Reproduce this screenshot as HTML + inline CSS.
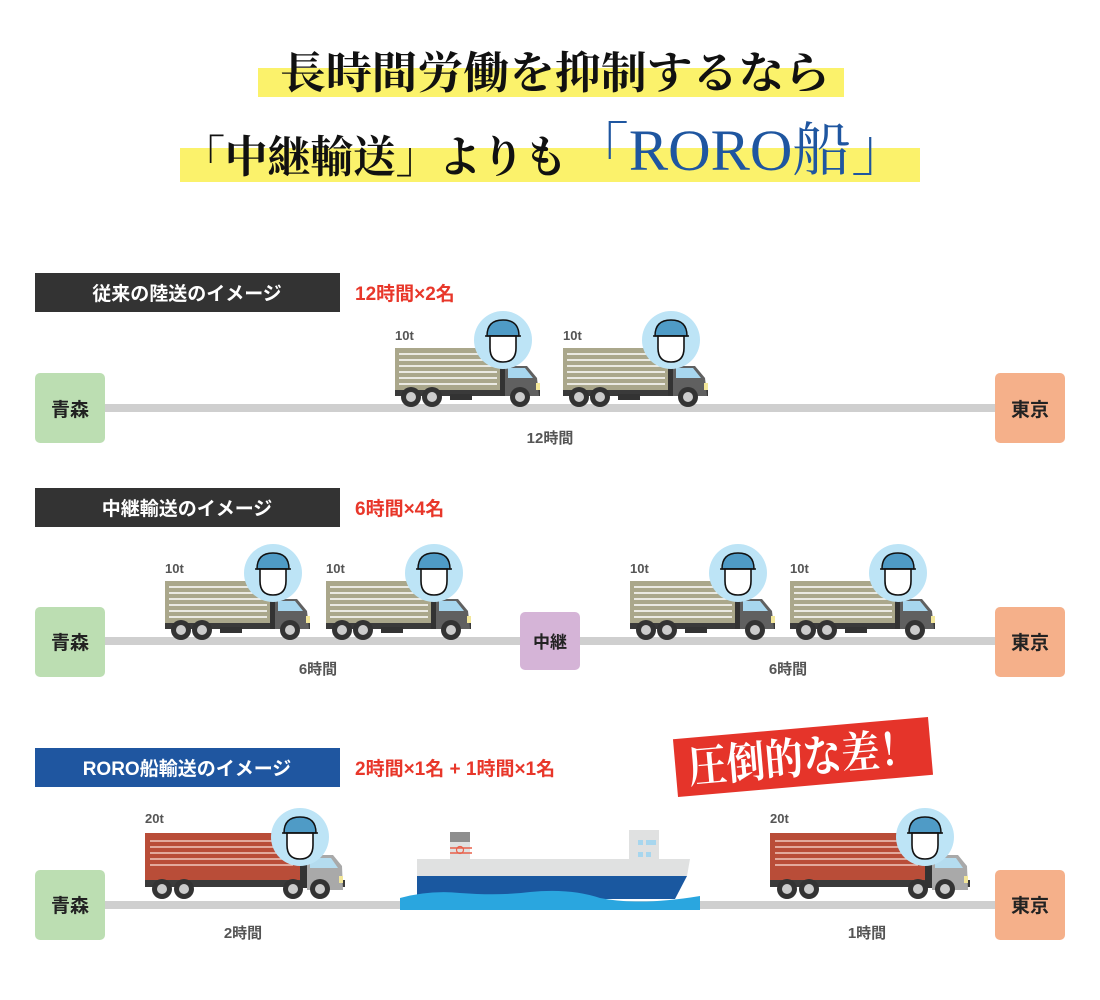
<!DOCTYPE html>
<html><head><meta charset="utf-8"><style>
html,body{margin:0;padding:0;background:#fff;}
svg{display:block}
.s{font-family:"Liberation Serif","Noto Serif CJK SC",serif;}
.g{font-family:"Liberation Sans","Noto Sans CJK JP",sans-serif;font-weight:bold;}
</style></head><body>
<svg width="1100" height="1000" viewBox="0 0 1100 1000" xmlns="http://www.w3.org/2000/svg">
<defs>
<g id="driver">
  <circle cx="0" cy="0" r="29" fill="#bde4f6"/>
  <path d="M-16 -4 Q-16 -20 0 -20 Q16 -20 16 -4 Z" fill="#4f9bc6" stroke="#111" stroke-width="1.5"/>
  <path d="M-13 -4 L-13 8 Q-13 22 0 22 Q13 22 13 8 L13 -4 Z" fill="#fff" stroke="#111" stroke-width="1.6"/>
  <path d="M-18 -4 L18 -4" stroke="#111" stroke-width="1.5"/>
</g>
<g id="t10">
  <text x="0" y="20" class="g" font-size="13" fill="#555">10t</text>
  <rect x="0" y="28" width="105" height="45" fill="#aaa78b"/>
  <g stroke="#fff" stroke-width="1.5">
    <line x1="4" y1="34" x2="102" y2="34"/><line x1="4" y1="40" x2="102" y2="40"/>
    <line x1="4" y1="46" x2="102" y2="46"/><line x1="4" y1="52" x2="102" y2="52"/>
    <line x1="4" y1="58" x2="102" y2="58"/><line x1="4" y1="64" x2="102" y2="64"/>
  </g>
  <rect x="0" y="70" width="145" height="6" fill="#3a3a3a"/>
  <rect x="105" y="46" width="5" height="30" fill="#333"/>
  <path d="M110 46 L132 46 L142 58 L144 76 L110 76 Z" fill="#606060"/>
  <path d="M113 48 L130 48 L138 58 L113 58 Z" fill="#a7d6ee"/>
  <rect x="141" y="63" width="4" height="7" fill="#f3e79a"/>
  <rect x="55" y="74" width="22" height="6" fill="#333"/>
  <g fill="#333"><circle cx="16" cy="77" r="10"/><circle cx="37" cy="77" r="10"/><circle cx="125" cy="77" r="10"/></g>
  <g fill="#ccc"><circle cx="16" cy="77" r="5"/><circle cx="37" cy="77" r="5"/><circle cx="125" cy="77" r="5"/></g>
  <use href="#driver" x="108" y="20"/>
</g>
<g id="t20">
  <text x="0" y="23" class="g" font-size="13" fill="#555">20t</text>
  <rect x="0" y="33" width="155" height="50" fill="#b94d38"/>
  <g stroke="#f0c8bd" stroke-width="1.5">
    <line x1="5" y1="41" x2="148" y2="41"/><line x1="5" y1="47" x2="148" y2="47"/>
    <line x1="5" y1="53" x2="148" y2="53"/><line x1="5" y1="59" x2="148" y2="59"/>
    <line x1="5" y1="65" x2="148" y2="65"/>
  </g>
  <rect x="0" y="80" width="200" height="7" fill="#3a3a3a"/>
  <rect x="155" y="50" width="7" height="38" fill="#333"/>
  <path d="M162 55 L188 55 L197 66 L198 90 L162 90 Z" fill="#a9a9a9"/>
  <path d="M165 58 L186 58 L193 68 L165 68 Z" fill="#b4dcef"/>
  <rect x="194" y="76" width="4" height="7" fill="#f3e79a"/>
  <g fill="#333"><circle cx="17" cy="89" r="10"/><circle cx="39" cy="89" r="10"/><circle cx="148" cy="89" r="10"/><circle cx="175" cy="89" r="10"/></g>
  <g fill="#ccc"><circle cx="17" cy="89" r="5"/><circle cx="39" cy="89" r="5"/><circle cx="148" cy="89" r="5"/><circle cx="175" cy="89" r="5"/></g>
  <use href="#driver" x="155" y="37"/>
</g>
</defs>

<!-- Title -->
<rect x="258" y="68" width="586" height="29" fill="#fbf26b"/>
<rect x="180" y="148" width="740" height="34" fill="#fbf26b"/>
<text x="280" y="88" class="s" font-size="44" font-weight="bold" fill="#111" textLength="550" lengthAdjust="spacingAndGlyphs">長時間労働を抑制するなら</text>
<text x="182" y="172" class="s" font-size="44" font-weight="bold" fill="#111" textLength="385" lengthAdjust="spacingAndGlyphs">「中継輸送」よりも</text>
<text x="570" y="170" class="s" font-size="58" fill="#1f56a0" textLength="340" lengthAdjust="spacingAndGlyphs">「RORO船」</text>

<!-- Row 1 -->
<rect x="35" y="273" width="305" height="39" fill="#333"/>
<text x="187" y="300" text-anchor="middle" class="g" font-size="19" fill="#fff">従来の陸送のイメージ</text>
<text x="355" y="300" class="g" font-size="19" fill="#e8372a">12時間×2名</text>
<rect x="100" y="404" width="900" height="8" fill="#cfcfcf"/>
<use href="#t10" x="395" y="320"/>
<use href="#t10" x="563" y="320"/>
<rect x="35" y="373" width="70" height="70" rx="5" fill="#bcdeb2"/>
<text x="70" y="416" text-anchor="middle" class="g" font-size="19" fill="#222">青森</text>
<rect x="995" y="373" width="70" height="70" rx="5" fill="#f5b08a"/>
<text x="1030" y="416" text-anchor="middle" class="g" font-size="19" fill="#222">東京</text>
<text x="550" y="443" text-anchor="middle" class="g" font-size="15" fill="#555">12時間</text>

<!-- Row 2 -->
<rect x="35" y="488" width="305" height="39" fill="#333"/>
<text x="187" y="515" text-anchor="middle" class="g" font-size="19" fill="#fff">中継輸送のイメージ</text>
<text x="355" y="515" class="g" font-size="19" fill="#e8372a">6時間×4名</text>
<rect x="100" y="637" width="900" height="8" fill="#cfcfcf"/>
<use href="#t10" x="165" y="553"/>
<use href="#t10" x="326" y="553"/>
<use href="#t10" x="630" y="553"/>
<use href="#t10" x="790" y="553"/>
<rect x="35" y="607" width="70" height="70" rx="5" fill="#bcdeb2"/>
<text x="70" y="649" text-anchor="middle" class="g" font-size="19" fill="#222">青森</text>
<rect x="995" y="607" width="70" height="70" rx="5" fill="#f5b08a"/>
<text x="1030" y="649" text-anchor="middle" class="g" font-size="19" fill="#222">東京</text>
<rect x="520" y="612" width="60" height="58" rx="5" fill="#d5b4d7"/>
<text x="550" y="648" text-anchor="middle" class="g" font-size="17" fill="#222">中継</text>
<text x="318" y="674" text-anchor="middle" class="g" font-size="15" fill="#555">6時間</text>
<text x="788" y="674" text-anchor="middle" class="g" font-size="15" fill="#555">6時間</text>

<!-- Row 3 -->
<rect x="35" y="748" width="305" height="39" fill="#1f56a0"/>
<text x="187" y="775" text-anchor="middle" class="g" font-size="19" fill="#fff">RORO船輸送のイメージ</text>
<text x="355" y="775" class="g" font-size="19" fill="#e8372a">2時間×1名 + 1時間×1名</text>
<g transform="rotate(-5 803 757)">
<rect x="675" y="728" width="256" height="58" fill="#e5342a"/>
<text x="803" y="773" text-anchor="middle" class="s" font-size="44" font-weight="bold" fill="#fff" textLength="230" lengthAdjust="spacingAndGlyphs">圧倒的な差！</text>
</g>
<rect x="100" y="901" width="900" height="8" fill="#cfcfcf"/>
<use href="#t20" x="145" y="800"/>
<use href="#t20" x="770" y="800"/>
<!-- ship -->
<rect x="450" y="832" width="20" height="10" fill="#8e8e8e"/>
<rect x="450" y="842" width="20" height="20" fill="#e0e1e1"/>
<line x1="450" y1="848" x2="472" y2="848" stroke="#e8604a" stroke-width="1.5"/>
<line x1="450" y1="853" x2="472" y2="853" stroke="#e8604a" stroke-width="1.5"/>
<circle cx="460" cy="850" r="3.5" fill="none" stroke="#e8604a" stroke-width="1.2"/>
<rect x="629" y="830" width="30" height="36" fill="#e0e1e1"/>
<g fill="#a7d6ee"><rect x="638" y="840" width="5" height="5"/><rect x="646" y="840" width="10" height="5"/><rect x="638" y="852" width="5" height="5"/><rect x="646" y="852" width="5" height="5"/><rect x="638" y="862" width="5" height="4"/><rect x="646" y="862" width="5" height="4"/></g>
<path d="M417 859 L690 859 L687 876 L417 876 Z" fill="#e0e1e1"/>
<path d="M417 876 L687 876 L675 899 L417 899 Z" fill="#1a58a0"/>
<path d="M400 898 Q430 890 460 893 Q500 896 530 892 Q570 888 600 898 Q640 906 700 896 L700 910 L400 910 Z" fill="#2aa6df"/>
<rect x="35" y="870" width="70" height="70" rx="5" fill="#bcdeb2"/>
<text x="70" y="912" text-anchor="middle" class="g" font-size="19" fill="#222">青森</text>
<rect x="995" y="870" width="70" height="70" rx="5" fill="#f5b08a"/>
<text x="1030" y="912" text-anchor="middle" class="g" font-size="19" fill="#222">東京</text>
<text x="243" y="938" text-anchor="middle" class="g" font-size="15" fill="#555">2時間</text>
<text x="867" y="938" text-anchor="middle" class="g" font-size="15" fill="#555">1時間</text>
</svg>
</body></html>
